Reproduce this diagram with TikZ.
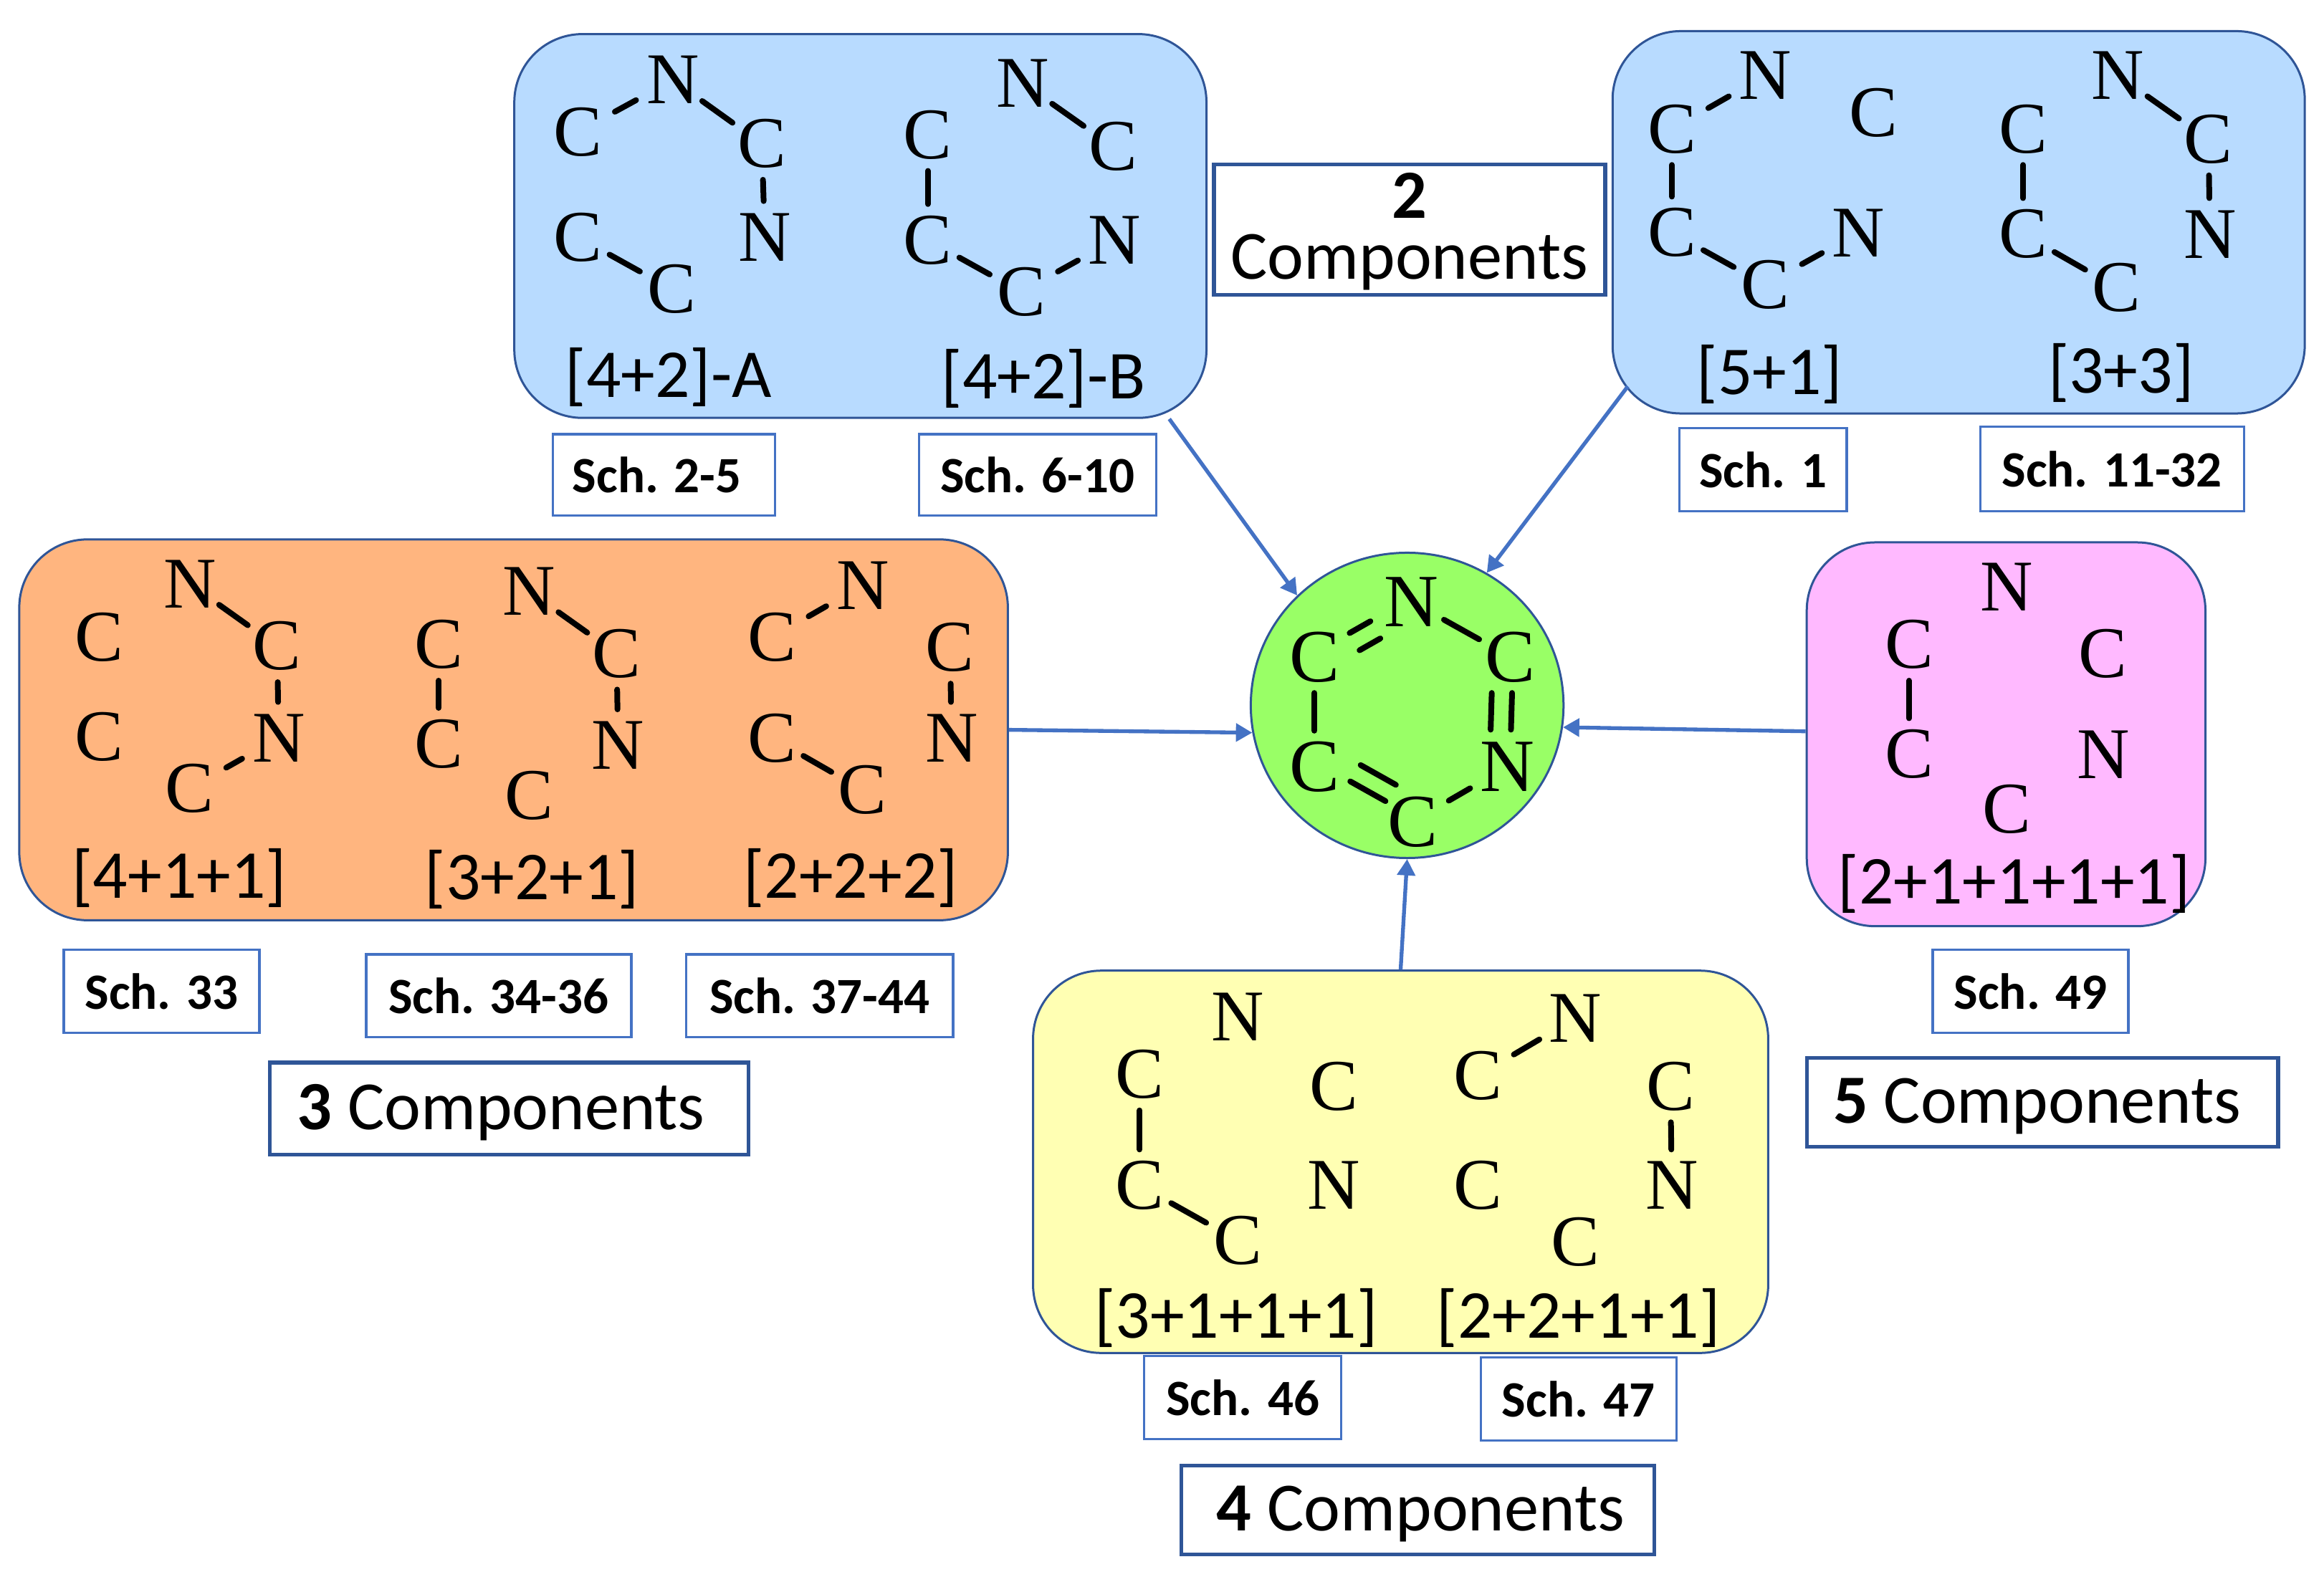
\documentclass[tikz,border=0pt]{standalone}
\usepackage{fontspec}
\usetikzlibrary{arrows.meta,shapes.geometric}
\setmainfont{Carlito}
\newfontfamily\atomfont{Liberation Serif}
\def\uu{0.6205pt}
\definecolor{panelblue}{HTML}{B8DBFF}
\definecolor{panelorange}{HTML}{FFB57F}
\definecolor{panelpink}{HTML}{FFB9FF}
\definecolor{panelyellow}{HTML}{FFFFB3}
\definecolor{hubgreen}{HTML}{99FF66}
\definecolor{edgeblue}{HTML}{4472C4}
\definecolor{edgedark}{HTML}{2F5597}
\tikzset{
  panel/.style={draw=edgedark,line width=0.9pt,rounded corners=46*\uu,inner sep=0pt},
  schbox/.style={draw=edgeblue,line width=1pt,fill=white,inner sep=0pt,font=\fontsize{21.3}{24}\selectfont\bfseries},
  compbox/.style={draw=edgedark,line width=1.6pt,fill=white,inner sep=0pt,align=center,font=\fontsize{28.9}{25.5}\selectfont},
  compone/.style={compbox,text height=22.5pt,text depth=5pt},
  lab/.style={inner sep=0pt,yshift=-1.5*\uu,font=\fontsize{28.7}{30}\selectfont},
  atomnode/.style={circle,inner sep=0pt,minimum size=48*\uu,font=\fontsize{30.5}{30}\selectfont\atomfont},
  bigatom/.style={atomnode,font=\fontsize{31.5}{30}\selectfont\atomfont},
  bond/.style={line width=2.4pt,line cap=round,black},
  sbond/.style={bond,shorten <=4*\uu,shorten >=4*\uu},
  link/.style={draw=edgeblue,line width=1.6pt,-{Triangle[length=11*\uu,width=12*\uu]}},
}
\newcommand{\rectn}[7]{\node[#1,minimum width={(#5-#3)*\uu},minimum height={(#6-#4)*\uu}] (#2) at ({(#3+#5)/2},{(#4+#6)/2}) {#7};}
\newcommand{\mk}[4]{\node[atomnode] (#1) at (#2,#3) {#4};}
\newcommand{\mkb}[4]{\node[bigatom] (#1) at (#2,#3) {#4};}
\begin{document}
\begin{tikzpicture}[x=\uu,y=-\uu]
\useasboundingbox (0,0) rectangle (1568,1063.8);
% panels
\rectn{panel,fill=panelblue}{pa}{347}{23}{814}{282}{}
\rectn{panel,fill=panelblue}{pb}{1088}{21}{1555}{279}{}
\rectn{panel,fill=panelorange}{pc}{13}{364}{680}{621}{}
\rectn{panel,fill=panelpink}{pd}{1219}{366}{1488}{625}{}
\rectn{panel,fill=panelyellow}{pe}{697}{655}{1193}{913}{}
\node[ellipse,draw=edgedark,line width=0.9pt,fill=hubgreen,inner sep=0pt,minimum width=211*\uu,minimum height=206*\uu] (hub) at (949.4,476) {};
% arrows
\draw[link] (pa.-32.4) -- (hub.135);
\draw[link] ([shift={(11,-19)}]pb.south west) -- (hub.59);
\draw[link] (pc.east) -- (hub.190);
\draw[link] ([yshift=2*\uu]pd.west) -- (hub.-8);
\draw[link] (pe.north) -- (hub.270);
% hub molecule
\mkb{h1}{952.4}{406}{N}\mkb{h2}{1019.2}{443.3}{C}\mkb{h3}{1017}{517.4}{N}
\mkb{h4}{953}{554.5}{C}\mkb{h5}{886.8}{517.4}{C}\mkb{h6}{886.8}{443.3}{C}
\draw[bond,shorten <=5*\uu,shorten >=5*\uu,transform canvas={shift={(-1.7,-1.6)}}] (h6)--(h1);
\draw[bond,shorten <=5*\uu,shorten >=5*\uu,transform canvas={shift={(5,10)}}] (h6)--(h1);
\draw[bond] (h1)--(h2);
\draw[bond,transform canvas={shift={(-12,0)}}] (h2)--(h3);
\draw[bond,transform canvas={shift={(1.7,0)}}] (h2)--(h3);
\draw[sbond] (h3)--(h4);
\draw[bond,transform canvas={shift={(3,-2)}}] (h4)--(h5);
\draw[bond,transform canvas={shift={(10,-13)}}] (h4)--(h5);
\draw[bond] (h5)--(h6);
% [4+2]-A
\mk{a1}{390}{89}{C}\mk{a2}{454}{54}{N}\mk{a3}{514}{97}{C}\mk{a4}{516}{160}{N}\mk{a5}{390}{160}{C}\mk{a6}{453}{195}{C}
\draw[sbond] (a1)--(a2);\draw[bond] (a2)--(a3);\draw[bond] (a3)--(a4);\draw[bond] (a5)--(a6);
% [4+2]-B
\mk{b1}{626}{91}{C}\mk{b2}{690}{56}{N}\mk{b3}{751}{99}{C}\mk{b4}{752}{162}{N}\mk{b5}{626}{162}{C}\mk{b6}{689}{197}{C}
\draw[bond] (b2)--(b3);\draw[bond] (b1)--(b5);\draw[bond] (b5)--(b6);\draw[sbond] (b6)--(b4);
% [5+1]
\mk{c1}{1128}{87}{C}\mk{c2}{1191}{51}{N}\mk{c3}{1264}{76}{C}\mk{c4}{1254}{157}{N}\mk{c5}{1128}{157}{C}\mk{c6}{1191}{192}{C}
\draw[sbond] (c1)--(c2);\draw[bond] (c1)--(c5);\draw[bond] (c5)--(c6);\draw[sbond] (c6)--(c4);
% [3+3]
\mk{d1}{1365}{87}{C}\mk{d2}{1429}{51}{N}\mk{d3}{1490}{94}{C}\mk{d4}{1491}{158}{N}\mk{d5}{1365}{158}{C}\mk{d6}{1428}{194}{C}
\draw[bond] (d2)--(d3);\draw[bond] (d3)--(d4);\draw[bond] (d1)--(d5);\draw[bond] (d5)--(d6);
% [4+1+1]
\mk{e1}{67}{430}{C}\mk{e2}{128}{394}{N}\mk{e3}{187}{436}{C}\mk{e4}{188}{498}{N}\mk{e5}{67}{497}{C}\mk{e6}{128}{532}{C}
\draw[bond] (e2)--(e3);\draw[bond] (e3)--(e4);\draw[sbond] (e6)--(e4);
% [3+2+1]
\mk{f1}{296}{435}{C}\mk{f2}{357}{399}{N}\mk{f3}{416}{441}{C}\mk{f4}{417}{503}{N}\mk{f5}{296}{502}{C}\mk{f6}{357}{537}{C}
\draw[bond] (f1)--(f5);\draw[bond] (f2)--(f3);\draw[bond] (f3)--(f4);
% [2+2+2]
\mk{g1}{521}{430}{C}\mk{g2}{582}{395}{N}\mk{g3}{641}{437}{C}\mk{g4}{642}{498}{N}\mk{g5}{521}{498}{C}\mk{g6}{582}{533}{C}
\draw[sbond] (g1)--(g2);\draw[bond] (g3)--(g4);\draw[bond] (g5)--(g6);
% [2+1+1+1+1]
\mk{i1}{1288}{435}{C}\mk{i2}{1354}{396}{N}\mk{i3}{1419}{441}{C}\mk{i4}{1419}{509}{N}\mk{i5}{1288}{509}{C}\mk{i6}{1354}{546}{C}
\draw[bond] (i1)--(i5);
% [3+1+1+1]
\mk{j1}{769}{725}{C}\mk{j2}{835}{686}{N}\mk{j3}{900}{733}{C}\mk{j4}{900}{800}{N}\mk{j5}{769}{800}{C}\mk{j6}{835}{837}{C}
\draw[bond] (j1)--(j5);\draw[bond] (j5)--(j6);
% [2+2+1+1]
\mk{k1}{997}{726}{C}\mk{k2}{1063}{687}{N}\mk{k3}{1127}{733}{C}\mk{k4}{1128}{800}{N}\mk{k5}{997}{800}{C}\mk{k6}{1063}{838}{C}
\draw[sbond] (k1)--(k2);\draw[bond] (k3)--(k4);
% labels
\node[lab] (la) at (451,253) {[4+2]-A};
\node[lab] (lb) at (704,254) {[4+2]-B};
\node[lab] (lc) at (1194,251) {[5+1]};
\node[lab] (ld) at (1431,250) {[3+3]};
\node[lab] (le) at (121,591) {[4+1+1]};
\node[lab] (lf) at (359,592) {[3+2+1]};
\node[lab] (lg) at (574,591) {[2+2+2]};
\node[lab] (li) at (1359,595) {[2+1+1+1+1]};
\node[lab] (lj) at (834,888) {[3+1+1+1]};
\node[lab] (lk) at (1065,888) {[2+2+1+1]};
% scheme boxes
\rectn{schbox}{s1}{373}{293}{523}{348}{Sch. 2-5\kern6pt}
\rectn{schbox}{s2}{620}{293}{780}{348}{Sch. 6-10}
\rectn{schbox}{s3}{1133}{289}{1246}{345}{Sch. 1}
\rectn{schbox}{s4}{1336}{288}{1514}{345}{Sch. 11-32}
\rectn{schbox}{s5}{43}{641}{175}{697}{Sch. 33}
\rectn{schbox}{s6}{247}{644}{426}{700}{Sch. 34-36}
\rectn{schbox}{s7}{463}{644}{643}{700}{Sch. 37-44}
\rectn{schbox}{s8}{1304}{641}{1436}{697}{Sch. 49}
\rectn{schbox}{s9}{772}{915}{905}{971}{Sch. 46}
\rectn{schbox}{s10}{999}{916}{1131}{972}{Sch. 47}
% component boxes
\rectn{compbox}{c2box}{819}{111}{1083}{199}{\rule{0pt}{20.8pt}\textbf{2}\\Components}
\rectn{compone}{c3box}{182}{717}{505}{779}{\textbf{3} Components\kern6.8pt}
\rectn{compone}{c4box}{797}{989}{1116}{1049}{\kern2.5pt\textbf{4} Components}
\rectn{compone}{c5box}{1219}{714}{1537}{774}{\textbf{5} Components\kern4.4pt}
\end{tikzpicture}
\end{document}
